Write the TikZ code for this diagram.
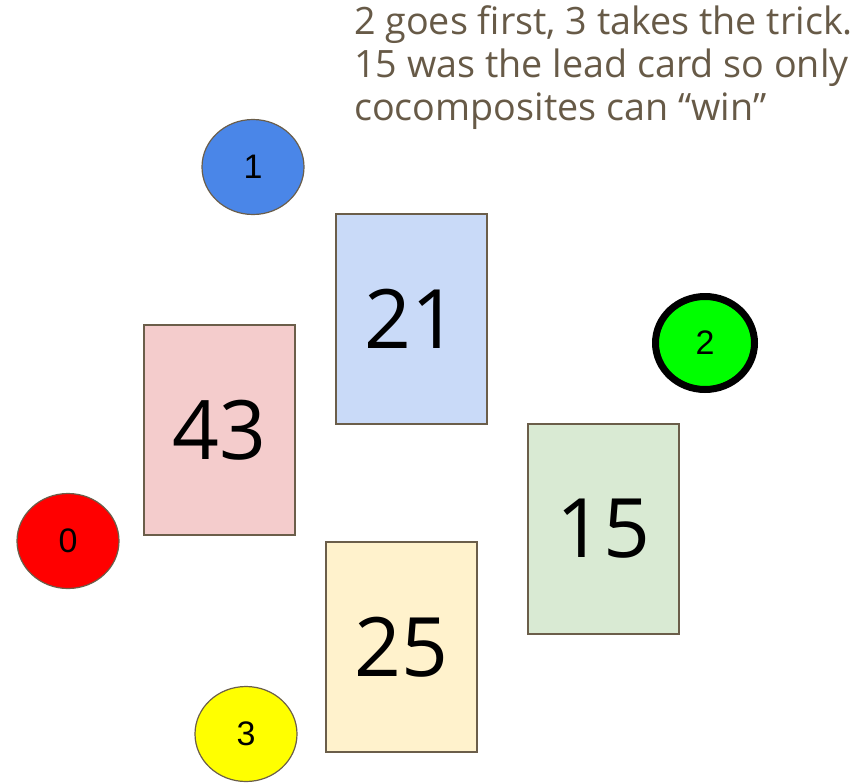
\documentclass[tikz,border=0pt]{standalone}
\usepackage{fontspec}
\setmainfont{Open Sans}
\newfontfamily\arialf{Liberation Sans}[Scale=1.0]
\usetikzlibrary{shapes.geometric}
\definecolor{edgec}{HTML}{6B5E4A}
\definecolor{txtc}{HTML}{675A47}
\definecolor{pinkc}{HTML}{F4CCCC}
\definecolor{bluec}{HTML}{C9DAF8}
\definecolor{greenc}{HTML}{D9EAD3}
\definecolor{yellowc}{HTML}{FFF2CC}
\definecolor{pblue}{HTML}{4A86E8}
\definecolor{pgreen}{HTML}{00FF00}
\definecolor{pred}{HTML}{FF0000}
\definecolor{pyellow}{HTML}{FFFF00}
\begin{document}
\begin{tikzpicture}[x=1pt,y=-1pt,
  card/.style={draw=edgec,line width=1.5pt,minimum width=151pt,minimum height=210pt,inner sep=0pt,
    font=\fontsize{82}{82}\selectfont,text=black},
  player/.style={ellipse,draw=edgec,line width=1.2pt,minimum width=102pt,minimum height=95pt,inner sep=0pt,
    text=black}]
\useasboundingbox (0,0) rectangle (865,782);
\node[card,fill=pinkc] (c43) at (219.5,430) {43};
\node[card,fill=bluec] (c21) at (411.5,319) {21};
\node[card,fill=greenc] (c15) at (603.5,529) {15};
\node[card,fill=yellowc] (c25) at (401.5,647) {25};
\node[player,fill=pblue] (p1) at (253,167) {\arialf\fontsize{34}{34}\selectfont 1};
\node[player,fill=pgreen,draw=black,line width=7pt,minimum width=99pt,minimum height=93pt] (p2) at (705,343) {\arialf\fontsize{34}{34}\selectfont 2};
\node[player,fill=pred] (p0) at (68,541) {\arialf\fontsize{34}{34}\selectfont 0};
\node[player,fill=pyellow] (p3) at (246,734) {\arialf\fontsize{34}{34}\selectfont 3};
\node[anchor=north west,inner sep=0pt,text=txtc,align=left,font=\fontsize{37.7}{43}\selectfont] (note) at (354,5)
  {2 goes first, 3 takes the trick.\\15 was the lead card so only\\cocomposites can “win”};
\end{tikzpicture}
\end{document}
